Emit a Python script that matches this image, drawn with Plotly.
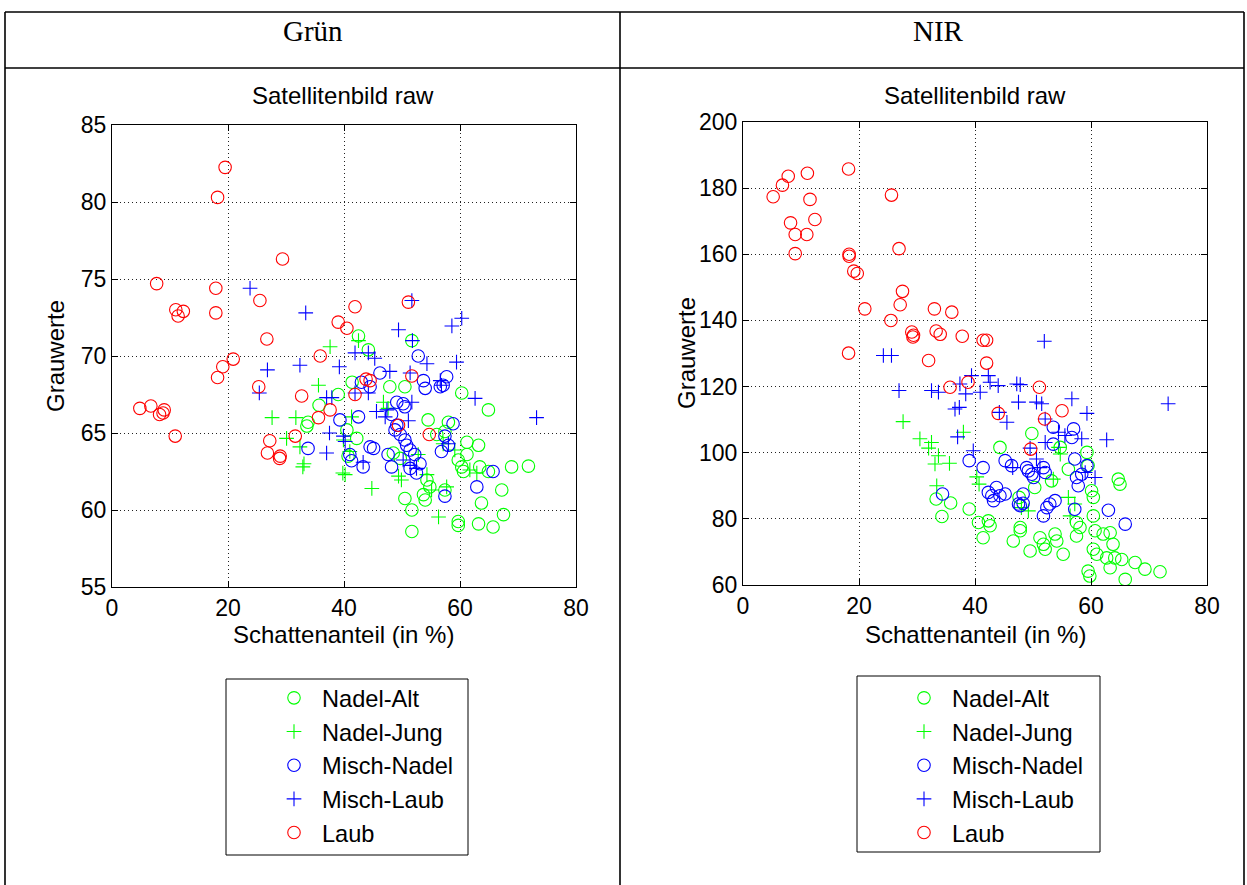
import plotly.graph_objects as go

W, H = 1247, 885

# ---------------- Grün: Schattenanteil (%) vs. Grauwert ----------------
gruen_nadel_alt_x = [42.5, 44.2, 51.7, 35.7, 33.8, 33.6, 39.0, 40.5, 40.7, 47.9, 50.5, 42.2, 48.5, 49.7,
                     54.5, 58.0, 56.0, 57.4, 60.3, 64.9, 61.2, 63.2, 59.7, 60.3, 60.6, 61.2, 63.4, 64.9,
                     68.9, 71.8, 54.3, 54.8, 53.7, 54.0, 50.5, 51.7, 63.7, 67.2, 67.5, 59.7, 59.7, 63.2,
                     65.7, 51.7, 57.4, 41.4]
gruen_nadel_alt_y = [71.3, 70.4, 71.0, 66.8, 65.7, 65.45, 67.5, 65.2, 63.5, 68.0, 68.0, 64.65, 63.7, 63.35,
                     65.85, 65.7, 64.9, 65.1, 67.6, 66.5, 64.4, 64.2, 63.25, 62.8, 62.5, 63.6, 62.8, 62.5,
                     62.8, 62.85, 61.95, 61.5, 61.0, 60.65, 60.75, 60.0, 60.45, 61.3, 59.7, 59.25, 59.0, 59.1,
                     58.9, 58.6, 61.3, 68.3]

gruen_nadel_jung_x = [37.6, 35.6, 27.6, 31.7, 30.1, 32.4, 33.1, 32.9, 39.8, 39.9, 42.5, 41.3, 46.8, 47.6,
                      40.2, 44.8, 49.4, 49.9, 54.3, 55.1, 57.7, 56.3, 57.1, 52.8, 62.9, 61.7, 41.0, 59.1]
gruen_nadel_jung_y = [70.6, 68.1, 66.0, 66.0, 64.65, 64.1, 63.0, 62.8, 62.4, 64.55, 71.0, 66.05, 67.0, 66.6,
                      62.3, 61.4, 62.2, 61.95, 62.3, 61.3, 61.5, 59.55, 64.3, 63.6, 62.4, 62.6, 63.8, 63.9]

gruen_misch_nadel_x = [39.3, 33.8, 52.8, 57.7, 56.6, 57.1, 43.0, 46.2, 44.5, 53.7, 54.0, 49.1, 50.2, 50.5,
                       48.2, 42.5, 49.1, 48.8, 49.7, 50.5, 58.8, 57.4, 56.8, 58.0, 44.5, 45.1, 47.6, 48.2,
                       41.0, 41.3, 43.3, 50.8, 51.4, 52.2, 51.4, 52.5, 53.1, 65.7, 62.9, 57.4]
gruen_misch_nadel_y = [65.85, 64.0, 70.0, 68.65, 68.0, 68.1, 68.3, 68.9, 68.0, 68.4, 67.9, 67.0, 66.9, 66.7,
                       66.2, 66.05, 65.5, 65.2, 64.9, 64.55, 65.6, 64.8, 63.8, 64.2, 64.1, 64.0, 63.6, 62.8,
                       63.6, 63.2, 62.8, 64.2, 63.9, 63.6, 62.7, 62.4, 63.0, 62.5, 61.5, 60.9]

gruen_misch_laub_x = [23.8, 33.4, 51.7, 60.3, 58.6, 49.4, 51.8, 41.9, 44.2, 45.3, 26.8, 32.4, 39.2, 25.4,
                      37.0, 37.9, 37.5, 37.0, 39.9, 40.2, 54.3, 59.4, 47.9, 51.4, 56.6, 56.8, 41.9, 44.2,
                      51.7, 45.6, 47.4, 47.1, 51.1, 58.0, 50.2, 51.4, 52.5, 62.6, 73.2, 43.3]
gruen_misch_laub_y = [74.4, 72.8, 73.6, 72.45, 71.95, 71.7, 71.0, 70.2, 70.2, 69.85, 69.1, 69.4, 69.3, 67.6,
                      67.3, 67.3, 65.0, 63.7, 64.8, 64.45, 69.5, 69.6, 69.0, 68.9, 68.4, 68.1, 67.6, 67.6,
                      67.0, 66.4, 66.5, 66.05, 65.8, 64.3, 63.25, 62.9, 62.7, 67.25, 66.0, 63.1]

gruen_laub_x = [4.8, 6.7, 8.2, 8.8, 9.0, 10.9, 7.7, 11.0, 12.3, 11.4, 17.9, 17.9, 18.2, 19.5, 18.2, 19.1,
                20.9, 25.5, 25.3, 26.7, 27.2, 26.8, 28.9, 29.0, 29.4, 31.6, 32.7, 35.6, 35.9, 37.6, 39.0,
                40.5, 41.9, 41.9, 43.8, 44.5, 49.4, 51.1, 51.7, 54.7]
gruen_laub_y = [66.6, 66.75, 66.2, 66.3, 66.5, 64.8, 74.7, 73.0, 72.9, 72.6, 74.4, 72.8, 80.3, 82.25, 68.6,
                69.3, 69.8, 73.6, 68.0, 71.1, 64.5, 63.7, 63.35, 63.5, 76.3, 64.8, 67.4, 66.0, 70.0, 66.5,
                72.2, 71.8, 73.2, 67.5, 68.5, 68.4, 65.5, 73.5, 68.7, 64.9]

# ---------------- NIR: Schattenanteil (%) vs. Grauwert ----------------
nir_nadel_alt_x = [33.3, 35.8, 34.3, 39.0, 40.6, 42.3, 42.6, 41.4, 44.3, 49.8, 50.3, 47.6, 47.8, 47.8, 46.6,
                   49.5, 51.2, 51.8, 52.1, 53.8, 54.1, 55.2, 53.2, 54.7, 56.1, 59.3, 59.5, 60.1, 60.4, 57.5,
                   58.1, 57.5, 60.4, 60.7, 62.1, 63.3, 63.8, 60.4, 61.0, 59.5, 59.8, 62.7, 63.3, 64.1, 65.3,
                   65.9, 67.6, 69.3, 71.9, 64.7, 65.0]
nir_nadel_alt_y = [86.0, 84.8, 80.7, 83.0, 78.9, 79.4, 77.9, 74.3, 101.6, 105.8, 89.5, 86.5, 77.4, 76.4, 73.3,
                   70.3, 74.3, 72.3, 70.8, 75.4, 73.3, 69.3, 91.5, 101.6, 95.0, 100.1, 96.1, 88.5, 86.5, 78.9,
                   77.4, 74.8, 80.9, 76.4, 75.4, 75.8, 72.3, 70.8, 69.3, 64.2, 62.7, 68.2, 65.2, 68.2, 67.7,
                   61.7, 66.8, 64.8, 64.0, 92.0, 90.5]

nir_nadel_jung_x = [27.6, 30.5, 32.5, 32.0, 33.7, 33.1, 35.6, 33.4, 38.0, 40.3, 40.7, 54.4, 54.7, 53.5,
                    48.0, 49.2, 56.4, 57.2, 56.1]
nir_nadel_jung_y = [109.4, 104.2, 103.1, 101.4, 99.1, 96.6, 96.8, 90.0, 106.2, 92.7, 90.5, 101.6, 99.6, 92.0,
                    83.4, 82.4, 80.9, 84.5, 86.5]

nir_misch_nadel_x = [34.4, 39.0, 41.4, 45.2, 46.3, 48.9, 49.2, 49.8, 51.8, 52.1, 50.1, 42.3, 42.9, 43.7,
                     44.3, 45.2, 43.2, 47.5, 47.8, 48.3, 48.3, 52.9, 53.8, 52.4, 51.8, 53.5, 53.5, 57.0,
                     56.7, 57.2, 57.5, 57.8, 59.3, 58.4, 57.2, 63.0, 65.9]
nir_misch_nadel_y = [87.5, 97.6, 95.5, 97.6, 96.1, 95.5, 94.5, 93.5, 95.5, 94.0, 92.5, 88.0, 87.0, 89.5,
                     87.0, 87.5, 85.5, 84.5, 84.0, 84.7, 87.5, 84.5, 85.5, 83.4, 80.9, 107.7, 102.6, 107.2,
                     104.6, 98.1, 92.5, 90.0, 96.1, 93.5, 82.9, 82.6, 78.4]

nir_misch_laub_x = [24.2, 25.6, 26.9, 32.5, 33.7, 37.4, 38.4, 36.55, 37.3, 37.0, 51.95, 39.4, 42.3, 42.6,
                    44.0, 47.2, 47.8, 40.9, 47.5, 50.6, 51.5, 56.7, 59.3, 44.2, 45.5, 52.1, 54.4, 55.5,
                    58.4, 62.7, 52.1, 49.5, 39.7, 50.6, 51.2, 46.5, 60.7, 59.0, 73.3]
nir_misch_laub_y = [129.4, 129.4, 118.8, 118.8, 118.3, 120.8, 117.8, 113.2, 113.7, 104.8, 133.7, 123.3, 123.3,
                    121.3, 120.3, 120.8, 120.6, 118.3, 115.3, 115.3, 114.8, 116.3, 111.9, 112.2, 109.2, 110.2,
                    106.2, 105.2, 104.2, 103.9, 103.1, 101.4, 100.6, 98.1, 95.5, 95.5, 92.5, 94.0, 114.8]

nir_laub_x = [5.2, 6.8, 7.8, 8.2, 9.0, 11.0, 9.0, 11.1, 11.55, 12.4, 18.2, 18.3, 18.3, 19.1, 19.7, 18.2,
              21.0, 25.6, 25.5, 26.9, 27.5, 27.1, 29.1, 29.4, 29.3, 32.0, 33.0, 33.3, 34.0, 36.0, 35.7,
              37.8, 38.8, 41.4, 42.0, 42.0, 44.0, 49.6, 51.1, 52.0, 55.0]
nir_laub_y = [177.4, 180.9, 183.6, 169.5, 166.0, 166.0, 160.2, 184.5, 176.6, 170.5, 185.8, 160.0, 159.4,
              154.9, 154.2, 130.1, 143.5, 177.9, 140.0, 161.7, 148.8, 144.75, 136.5, 135.5, 135.0, 127.9,
              143.5, 136.8, 135.8, 142.5, 119.8, 135.2, 121.3, 134.0, 134.0, 127.1, 111.9, 101.1, 119.8,
              110.2, 112.7]

series_names = ["Nadel-Alt", "Nadel-Jung", "Misch-Nadel", "Misch-Laub", "Laub"]
series_colors = ["#00ff00", "#00ff00", "#0000ff", "#0000ff", "#ff0000"]
series_symbols = ["circle-open", "cross-thin-open", "circle-open", "cross-thin-open", "circle-open"]

gruen_series = [(gruen_nadel_alt_x, gruen_nadel_alt_y), (gruen_nadel_jung_x, gruen_nadel_jung_y),
                (gruen_misch_nadel_x, gruen_misch_nadel_y), (gruen_misch_laub_x, gruen_misch_laub_y),
                (gruen_laub_x, gruen_laub_y)]
nir_series = [(nir_nadel_alt_x, nir_nadel_alt_y), (nir_nadel_jung_x, nir_nadel_jung_y),
              (nir_misch_nadel_x, nir_misch_nadel_y), (nir_misch_laub_x, nir_misch_laub_y),
              (nir_laub_x, nir_laub_y)]

panels = [
    dict(series=gruen_series, xa="x", ya="y", legend="legend"),
    dict(series=nir_series, xa="x2", ya="y2", legend="legend2"),
]


def px_x(p):
    return p / W


def px_y(p):
    return 1 - p / H


fig = go.Figure()
for panel in panels:
    for (xs, ys), name, col, sym in zip(panel["series"], series_names, series_colors, series_symbols):
        is_cross = sym.startswith("cross")
        fig.add_trace(go.Scatter(
            x=xs, y=ys, mode="markers", name=name,
            xaxis=panel["xa"], yaxis=panel["ya"], legend=panel["legend"],
            marker=dict(symbol=sym, size=10.5 if is_cross else 12.5, color=col,
                        line=dict(color=col, width=1.1)),
        ))

SANS = "Liberation Sans, Arial, sans-serif"
AX_FONT = dict(family=SANS, size=23, color="black")
common_x = dict(range=[0, 80], dtick=20, tick0=0)
axis_style = dict(
    showline=True, linecolor="black", linewidth=1, mirror="ticks",
    ticks="inside", ticklen=6, tickcolor="black", tickwidth=1,
    showgrid=True, gridcolor="#222222", griddash="1px,3px", gridwidth=1,
    zeroline=False, tickfont=AX_FONT, fixedrange=True, automargin=False,
)
legend_style = dict(xanchor="left", yanchor="top", bgcolor="rgba(0,0,0,0)", borderwidth=0,
                    itemwidth=46, font=dict(family=SANS, size=23.6, color="black"))

fig.update_layout(
    width=W, height=H, margin=dict(l=0, r=0, t=0, b=0, pad=0, autoexpand=False),
    paper_bgcolor="white", plot_bgcolor="white",
    xaxis=dict(domain=[px_x(112), px_x(576)], anchor="y", **common_x, **axis_style),
    yaxis=dict(domain=[px_y(587), px_y(125)], anchor="x", range=[55, 85], dtick=5, **axis_style),
    xaxis2=dict(domain=[px_x(743), px_x(1207)], anchor="y2", **common_x, **axis_style),
    yaxis2=dict(domain=[px_y(585), px_y(122)], anchor="x2", range=[60, 200], dtick=20, **axis_style),
    legend=dict(x=px_x(266), y=px_y(676), **legend_style),
    legend2=dict(x=px_x(896), y=px_y(676), **legend_style),
)

# table frame with header row
line = dict(color="black", width=1.6)
for x0, y0, x1, y1 in [(5, 12, 1244, 12), (5, 68, 1244, 68), (5, 12, 5, 885),
                       (1244, 12, 1244, 885), (620, 12, 620, 885)]:
    fig.add_shape(type="line", xref="paper", yref="paper",
                  x0=px_x(x0), y0=px_y(y0), x1=px_x(x1), y1=px_y(y1), line=line)

# legend frames
for x0, y0, x1, y1 in [(226, 679, 468, 855), (857, 676, 1100, 852)]:
    fig.add_shape(type="rect", xref="paper", yref="paper",
                  x0=px_x(x0), y0=px_y(y0), x1=px_x(x1), y1=px_y(y1),
                  line=dict(color="black", width=1), fillcolor="rgba(0,0,0,0)")

SERIF = dict(family="Liberation Serif, Times New Roman, serif", size=29, color="black")
LBL = dict(family=SANS, size=24, color="black")

texts = [
    ("Grün", 313, 31, SERIF, 0),
    ("NIR", 938, 31, SERIF, 0),
    ("Satellitenbild raw", 343, 95, LBL, 0),
    ("Satellitenbild raw", 975, 95, LBL, 0),
    ("Schattenanteil (in %)", 343, 634, LBL, 0),
    ("Schattenanteil (in %)", 975, 634, LBL, 0),
    ("Grauwerte", 55, 356, LBL, -90),
    ("Grauwerte", 686, 353, LBL, -90),
]
for txt, x, y, font, ang in texts:
    fig.add_annotation(text=txt, xref="paper", yref="paper", x=px_x(x), y=px_y(y),
                       xanchor="center", yanchor="middle", showarrow=False, font=font, textangle=ang)

fig.write_html("out.html",
               post_script="document.body.style.margin='0';document.body.style.overflow='hidden';")
